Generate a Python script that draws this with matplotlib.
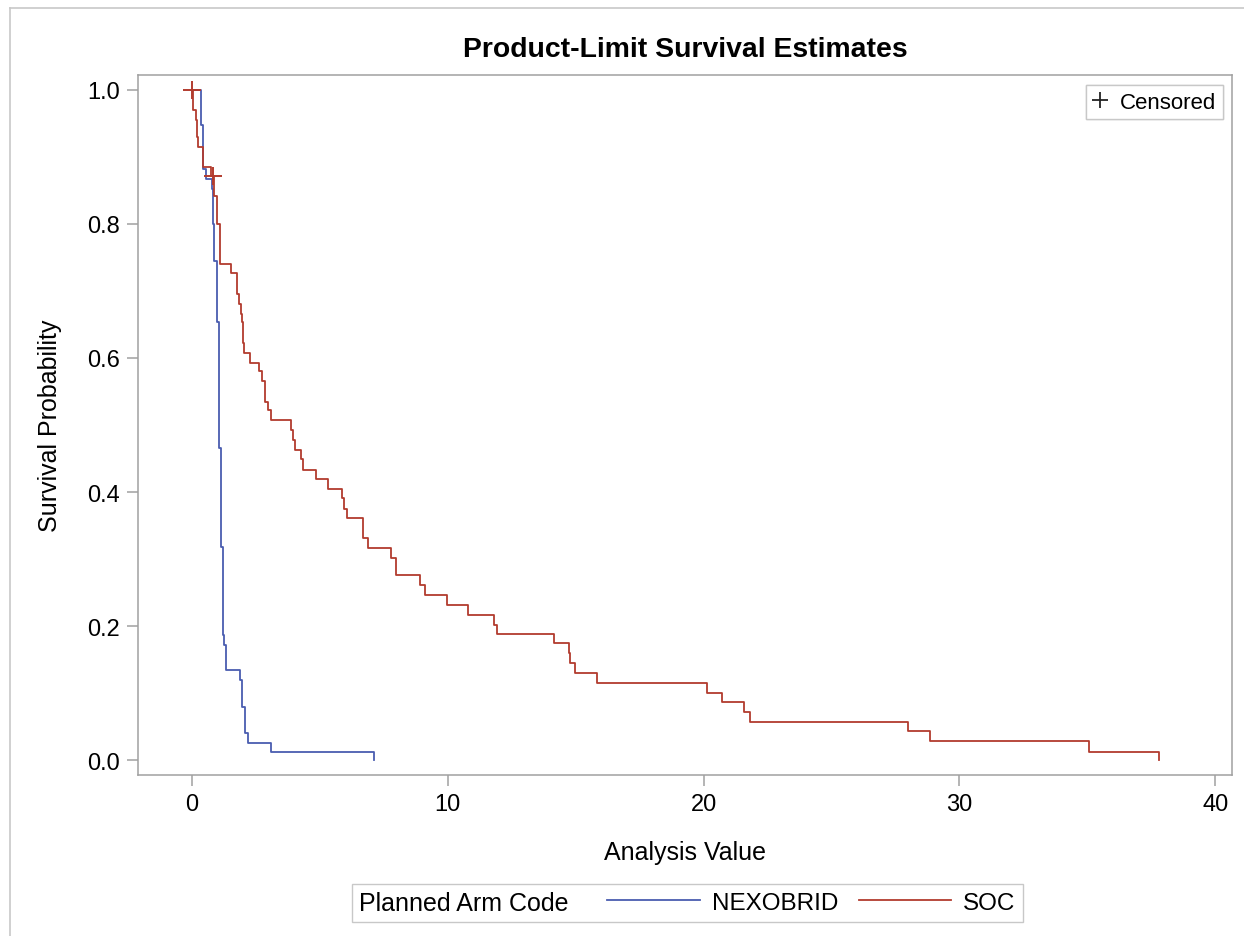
import matplotlib
matplotlib.use('Agg')
import matplotlib.pyplot as plt
from matplotlib.lines import Line2D
from matplotlib.offsetbox import HPacker
import numpy as np

plt.rcParams['font.family'] = ['Liberation Sans', 'DejaVu Sans']

# Kaplan-Meier step points (time, survival after the step)
soc_time = [0, 0.06, 0.15, 0.20, 0.25, 0.43, 0.74, 0.86, 0.98, 1.09, 1.52, 1.76, 1.84,
            1.91, 1.95, 2.01, 2.03, 2.27, 2.62, 2.73, 2.85, 2.97, 3.09, 3.87, 3.95,
            4.02, 4.28, 4.33, 4.84, 5.31, 5.86, 5.94, 6.05, 6.68, 6.88, 7.77, 7.97,
            8.91, 9.10, 9.96, 10.78, 11.80, 11.91, 14.14, 14.76, 14.80, 14.96, 15.82,
            20.12, 20.74, 21.60, 21.80, 27.97, 28.83, 35.08, 37.81]
soc_surv = [1.0, 0.97, 0.955, 0.93, 0.915, 0.885, 0.871, 0.842, 0.80, 0.74, 0.727, 0.695,
            0.68, 0.665, 0.653, 0.623, 0.608, 0.593, 0.58, 0.565, 0.535, 0.523, 0.507,
            0.492, 0.477, 0.463, 0.449, 0.433, 0.419, 0.404, 0.391, 0.375, 0.361, 0.332,
            0.317, 0.302, 0.277, 0.262, 0.247, 0.232, 0.217, 0.202, 0.188, 0.175, 0.16,
            0.145, 0.13, 0.115, 0.101, 0.087, 0.072, 0.057, 0.043, 0.028, 0.013, 0.0]

nexo_time = [0, 0.35, 0.43, 0.55, 0.78, 0.82, 0.86, 0.98, 1.05, 1.13, 1.21, 1.25, 1.33,
             1.88, 1.95, 2.07, 2.19, 3.09, 7.11]
nexo_surv = [1.0, 0.948, 0.882, 0.867, 0.852, 0.80, 0.744, 0.653, 0.465, 0.318, 0.187,
             0.172, 0.135, 0.12, 0.079, 0.040, 0.025, 0.012, 0.0]

soc_cens_time = [0, 0.82]
soc_cens_surv = [1.0, 0.871]

blue = '#4a5db0'
red = '#b23b2e'
gray = '#a0a0a0'

fig = plt.figure(figsize=(12.44, 9.37), dpi=100)
ax = fig.add_axes([138 / 1244, 1 - 776 / 937, (1232 - 138) / 1244, (776 - 76) / 937])

l1, = ax.step(nexo_time, nexo_surv, where='post', color=blue, lw=1.3)
l2, = ax.step(soc_time, soc_surv, where='post', color=red, lw=1.3)
ax.plot(soc_cens_time, soc_cens_surv, ls='none', marker='+', ms=13, mew=1.4, color=red)

ax.set_xlim(-2.1, 40.65)
ax.set_ylim(-0.022, 1.022)
ax.set_xticks([0, 10, 20, 30, 40])
ax.set_yticks([0.0, 0.2, 0.4, 0.6, 0.8, 1.0])
ax.set_yticklabels(['0.0', '0.2', '0.4', '0.6', '0.8', '1.0'])
for s in ax.spines.values():
    s.set_color(gray)
    s.set_linewidth(1.1)
ax.tick_params(axis='both', colors=gray, labelcolor='black', length=8, width=1.1,
               labelsize=17, pad=5)

ax.set_xlabel('Analysis Value', fontsize=18, labelpad=18)
ax.set_ylabel('Survival Probability', fontsize=18, labelpad=18)
ax.set_title('Product-Limit Survival Estimates', fontsize=20.4, fontweight='bold', pad=14)

# censored legend (upper right)
cens = Line2D([], [], ls='none', marker='+', ms=11, mew=1.3, color='#222222')
leg1 = ax.legend([cens], ['Censored'], loc='upper right', fontsize=16,
                 handlelength=0.7, handletextpad=0.55, borderpad=0.3, borderaxespad=0,
                 fancybox=False, framealpha=1, edgecolor='#c8c8c8',
                 bbox_to_anchor=(0.9918, 0.9857))
leg1.get_frame().set_linewidth(1.0)
ax.add_artist(leg1)

# bottom legend with title on the left
leg = fig.legend([l1, l2], ['NEXOBRID', 'SOC'], title='Planned Arm Code', ncol=2,
                 loc='center', bbox_to_anchor=(0.5525, 0.0355), fontsize=17.5,
                 title_fontsize=18, handlelength=3.8, handletextpad=0.5,
                 columnspacing=0.85, borderpad=0.2, fancybox=False,
                 edgecolor='#c8c8c8', framealpha=1)
leg.get_frame().set_linewidth(1.0)
fs = 18 * 100 / 72
leg._legend_box = HPacker(pad=leg.borderpad * fs, sep=1.12 * fs, align='center',
                          children=[leg._legend_title_box, leg._legend_handle_box])
leg._legend_box.set_figure(fig)
leg._set_loc(leg._loc)

# outer frame edges
fig.add_artist(Line2D([10 / 1244, 1], [1 - 9 / 937] * 2, color='#c8c8c8', lw=1.2))
fig.add_artist(Line2D([10 / 1244] * 2, [0, 1 - 9 / 937], color='#c8c8c8', lw=1.2))

fig.savefig('out.png', dpi=100)
